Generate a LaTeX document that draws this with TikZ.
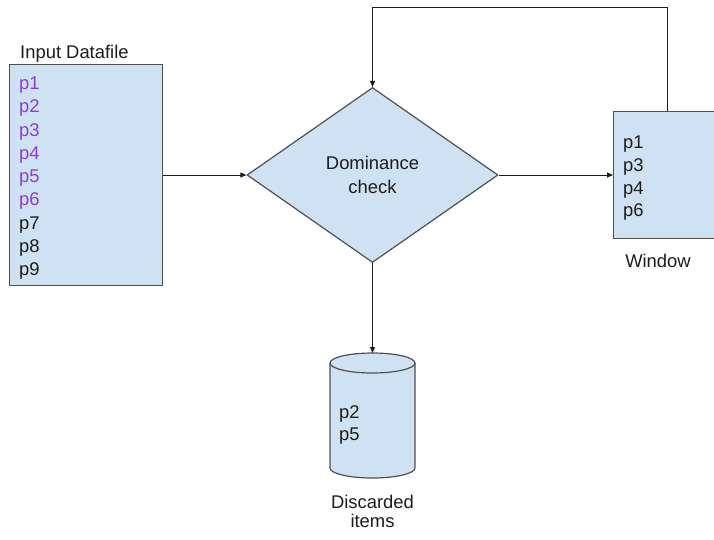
\documentclass[tikz,border=0pt]{standalone}
\usepackage{fontspec}
\setmainfont{Liberation Sans}
\usetikzlibrary{shapes.geometric,arrows.meta}
\definecolor{boxfill}{HTML}{CFE2F3}
\definecolor{boxline}{HTML}{505050}
\definecolor{ink}{HTML}{1C1C1C}
\definecolor{hit}{HTML}{8E3BDA}
\begin{document}
\begin{tikzpicture}[x=1pt,y=-1pt,
  store/.style={rectangle, draw=boxline, fill=boxfill, line width=1.2pt, inner sep=0pt},
  entry/.style={font=\fontsize{18.4}{23}\selectfont, text=ink, inner sep=0pt, anchor=base west},
  caption/.style={font=\fontsize{18.4}{23}\selectfont, text=ink, inner sep=0pt, anchor=base},
  link/.style={draw=ink, line width=0.9pt, -{Triangle[length=6pt,width=5pt]}}
]
\useasboundingbox (0,0) rectangle (714,539);

% input data file
\node[entry] (inlab) at (20,58) {Input Datafile};
\node[store, minimum width=153pt, minimum height=221pt, anchor=north west] (input) at (9,64) {};
\foreach \t/\c [count=\i from 0] in {p1/hit,p2/hit,p3/hit,p4/hit,p5/hit,p6/hit,p7/ink,p8/ink,p9/ink}
  \node[entry, text=\c] (in\i) at (19,{89.6+23.25*\i}) {\t};

% dominance test
\node[diamond, draw=boxline, fill=boxfill, line width=1.2pt, minimum width=251pt,
      minimum height=175pt, inner sep=0pt, align=center,
      font=\fontsize{18.4}{24}\selectfont, text=ink] (dom) at (372.5,175) {Dominance\\check};

% window
\node[store, minimum width=108pt, minimum height=127pt, anchor=north west] (win) at (613,111) {};
\foreach \t [count=\i from 0] in {p1,p3,p4,p6}
  \node[entry] (w\i) at (623,{148.6+22.7*\i}) {\t};
\node[caption] (winlab) at (658,267) {Window};

% discarded items store
\node[minimum width=85pt, minimum height=125pt, inner sep=0pt, anchor=north] (disc) at (372.5,353) {};
\path[draw=boxline, fill=boxfill, line width=1.2pt]
  (330,363) -- (330,468) arc[start angle=180, end angle=0, x radius=42.5, y radius=10]
  -- (415,363) arc[start angle=0, end angle=-180, x radius=42.5, y radius=10] -- cycle;
\draw[boxline, line width=1.2pt] (330,363) arc[start angle=180, end angle=0, x radius=42.5, y radius=10];
\node[entry] (d0) at (339,418.6) {p2};
\node[entry] (d1) at (339,440.6) {p5};
\node[caption] (disclab1) at (372.5,508) {Discarded};
\node[caption] (disclab2) at (372.5,527) {items};

% connectors
\coordinate (loop) at (0,7);
\draw[link] (input.east |- dom.west) -- (dom.west);
\draw[link] (dom.east) -- (dom.east -| win.west);
\draw[link] (dom.south) -- (disc.north);
\draw[link] (win.north) |- (loop -| dom.north) -- (dom.north);
\end{tikzpicture}
\end{document}
